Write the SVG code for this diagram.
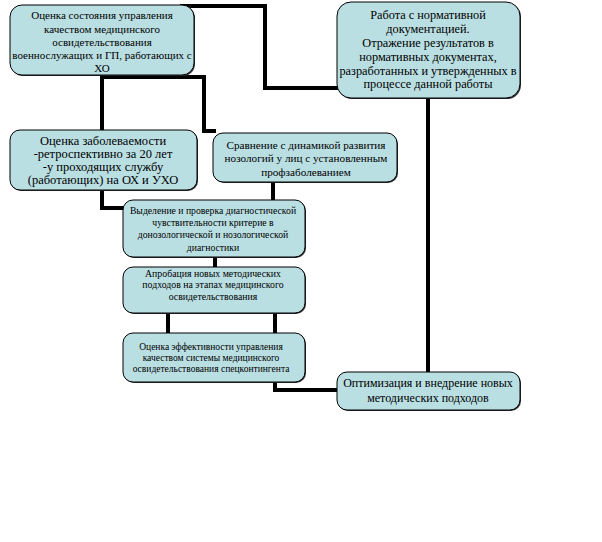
<svg xmlns="http://www.w3.org/2000/svg" width="602" height="542" viewBox="0 0 602 542">
<style>
.box{fill:#BADFE3;stroke:#000;stroke-width:1}
.sh{fill:#333}
.c{fill:none;stroke:#000;stroke-width:4;stroke-linejoin:miter}
</style>
<rect width="602" height="542" fill="#fff"/>
<g id="connectors">
<polyline class="c" points="180,6 265,6 265,88 340,88"/>
<polyline class="c" points="102,70 102,132"/>
<polyline class="c" points="102,77 204,77 204,131 216,131"/>
<polyline class="c" points="102,188 102,208 126,208"/>
<polyline class="c" points="273,180 273,202"/>
<polyline class="c" points="215,255 215,269"/>
<polyline class="c" points="168,311 168,335"/>
<polyline class="c" points="275,311 275,335"/>
<polyline class="c" points="275,380 275,390 340,390"/>
<polyline class="c" points="428,96 428,374"/>
</g>
<g id="n1">
<rect class="sh" x="11" y="6" width="184" height="70" rx="12"/>
<rect class="box" x="10" y="5" width="184" height="70" rx="12"/>
<text font-family="Liberation Serif" font-size="11" text-anchor="middle"><tspan x="102" y="19">Оценка состояния управления</tspan><tspan x="102" y="33">качеством медицинского</tspan><tspan x="102" y="46">освидетельствования</tspan><tspan x="102" y="59">военнослужащих и ГП, работающих с</tspan><tspan x="102" y="72">ХО</tspan></text>
</g>
<g id="n2">
<rect class="sh" x="338" y="3" width="183" height="96" rx="14"/>
<rect class="box" x="337" y="2" width="183" height="96" rx="14"/>
<text font-family="Liberation Serif" font-size="12.3" text-anchor="middle"><tspan x="428" y="19">Работа с нормативной</tspan><tspan x="428" y="33">документацией.</tspan><tspan x="428" y="47">Отражение результатов в</tspan><tspan x="428" y="61">нормативных документах,</tspan><tspan x="428" y="75">разработанных и утвержденных в</tspan><tspan x="428" y="88">процессе данной работы</tspan></text>
</g>
<g id="n3">
<rect class="sh" x="11" y="131" width="187" height="60" rx="10"/>
<rect class="box" x="10" y="130" width="187" height="60" rx="10"/>
<text font-family="Liberation Serif" font-size="12.5" text-anchor="middle"><tspan x="103" y="145">Оценка заболеваемости</tspan><tspan x="103" y="158">-ретроспективно за 20 лет</tspan><tspan x="103" y="171">-у проходящих службу</tspan><tspan x="103" y="184">(работающих) на ОХ и УХО</tspan></text>
</g>
<g id="n4">
<rect class="sh" x="214" y="134" width="184" height="49" rx="10"/>
<rect class="box" x="213" y="133" width="184" height="49" rx="10"/>
<text font-family="Liberation Serif" font-size="11.2" text-anchor="middle"><tspan x="306" y="149">Сравнение с динамикой развития</tspan><tspan x="306" y="162">нозологий у лиц с установленным</tspan><tspan x="306" y="176">профзаболеванием</tspan></text>
</g>
<g id="n5">
<rect class="sh" x="124" y="201" width="182" height="57" rx="10"/>
<rect class="box" x="123" y="200" width="182" height="57" rx="10"/>
<text font-family="Liberation Serif" font-size="9.7" text-anchor="middle"><tspan x="213" y="214">Выделение и проверка диагностической</tspan><tspan x="213" y="226">чувствительности критерие в</tspan><tspan x="213" y="238">донозологической и нозологической</tspan><tspan x="213" y="251">диагностики</tspan></text>
</g>
<g id="n6">
<rect class="sh" x="124" y="268" width="182" height="46" rx="10"/>
<rect class="box" x="123" y="267" width="182" height="46" rx="10"/>
<text font-family="Liberation Serif" font-size="9.8" text-anchor="middle"><tspan x="213" y="277">Апробация новых методических</tspan><tspan x="213" y="288">подходов на этапах медицинского</tspan><tspan x="213" y="300">освидетельствования</tspan></text>
</g>
<g id="n7">
<rect class="sh" x="124" y="334" width="182" height="49" rx="10"/>
<rect class="box" x="123" y="333" width="182" height="49" rx="10"/>
<text font-family="Liberation Serif" font-size="9.5" text-anchor="middle"><tspan x="211" y="350">Оценка эффективности управления</tspan><tspan x="211" y="361">качеством системы медицинского</tspan><tspan x="211" y="372">освидетельствования спецконтингента</tspan></text>
</g>
<g id="n8">
<rect class="sh" x="338" y="373" width="183" height="38" rx="10"/>
<rect class="box" x="337" y="372" width="183" height="38" rx="10"/>
<text font-family="Liberation Serif" font-size="12" text-anchor="middle"><tspan x="428" y="387">Оптимизация и внедрение новых</tspan><tspan x="428" y="402">методических подходов</tspan></text>
</g>
</svg>
